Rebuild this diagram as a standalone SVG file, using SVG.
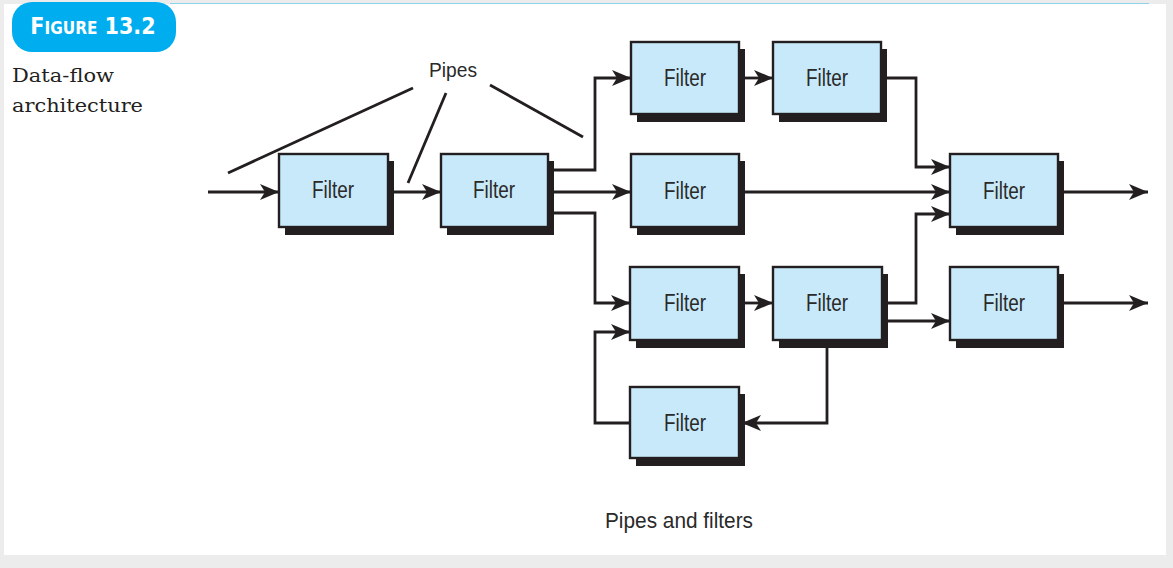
<svg xmlns="http://www.w3.org/2000/svg" width="1173" height="568" viewBox="0 0 1173 568">
<defs>
<style>
.shadow{fill:#231f20}
.box{fill:#c8e9f9;stroke:#231f20;stroke-width:2.4}
.lbl{font-family:"Liberation Sans",Arial,sans-serif;font-size:23px;fill:#2a2a2a;text-anchor:middle}
.wire{fill:none;stroke:#231f20;stroke-width:2.8}
.pipe{fill:none;stroke:#231f20;stroke-width:2.8}
</style>
<marker id="ah" markerUnits="userSpaceOnUse" markerWidth="20" markerHeight="16" refX="19" refY="8" orient="auto">
<path d="M0,0 L19,8 L0,16 L5,8 Z" fill="#231f20"/>
</marker>
</defs>
<rect x="0" y="0" width="1173" height="568" fill="#ececec"/>
<rect x="4" y="4" width="1162" height="551" fill="#ffffff"/>
<line x1="170" y1="3.5" x2="1149" y2="3.5" stroke="#8fd3ea" stroke-width="1.2"/>

<g id="title">
<rect x="12" y="2" width="164" height="50" rx="20" fill="#00aeef"/>
<text x="93" y="34" font-family="'DejaVu Sans Condensed','DejaVu Sans',sans-serif" font-weight="bold" font-size="23" fill="#ffffff" text-anchor="middle">F<tspan font-size="17">IGURE</tspan> 13.2</text>
<text x="12" y="82" font-family="'DejaVu Serif','Liberation Serif',serif" font-size="19" fill="#231f20" textLength="102" lengthAdjust="spacingAndGlyphs">Data-flow</text>
<text x="12" y="112" font-family="'DejaVu Serif','Liberation Serif',serif" font-size="19" fill="#231f20" textLength="131" lengthAdjust="spacingAndGlyphs">architecture</text>
</g>

<g id="connectors">
<path class="wire" d="M208,192 H279" marker-end="url(#ah)"/>
<path class="wire" d="M393,192 H441" marker-end="url(#ah)"/>
<path class="wire" d="M553,170 H595 V78 H631" marker-end="url(#ah)"/>
<path class="wire" d="M553,192 H631" marker-end="url(#ah)"/>
<path class="wire" d="M553,213 H595 V303 H630" marker-end="url(#ah)"/>
<path class="wire" d="M744,78 H773" marker-end="url(#ah)"/>
<path class="wire" d="M886,78 H916 V167 H950" marker-end="url(#ah)"/>
<path class="wire" d="M744,192 H950" marker-end="url(#ah)"/>
<path class="wire" d="M744,303 H773" marker-end="url(#ah)"/>
<path class="wire" d="M887,303 H916 V214 H950" marker-end="url(#ah)"/>
<path class="wire" d="M887,321 H950" marker-end="url(#ah)"/>
<path class="wire" d="M827,348 V423 H742" marker-end="url(#ah)"/>
<path class="wire" d="M630,423 H595 V332 H630" marker-end="url(#ah)"/>
<path class="wire" d="M1063,192 H1148" marker-end="url(#ah)"/>
<path class="wire" d="M1063,303 H1148" marker-end="url(#ah)"/>
</g>

<g id="pipes">
<text x="453" y="77" font-family="'Liberation Sans',Arial,sans-serif" font-size="21" fill="#2a2a2a" text-anchor="middle" textLength="48" lengthAdjust="spacingAndGlyphs">Pipes</text>
<line class="pipe" x1="413" y1="88" x2="228" y2="173"/>
<line class="pipe" x1="446" y1="93" x2="408" y2="183"/>
<line class="pipe" x1="490" y1="85" x2="583" y2="137"/>
</g>

<g id="f1"><rect class="shadow" x="285" y="161" width="109" height="74"/><rect class="box" x="279" y="154" width="109" height="73"/><text class="lbl" x="333" y="198" textLength="42" lengthAdjust="spacingAndGlyphs">Filter</text></g>
<g id="f2"><rect class="shadow" x="447" y="161" width="107" height="74"/><rect class="box" x="441" y="154" width="107" height="73"/><text class="lbl" x="494" y="198" textLength="42" lengthAdjust="spacingAndGlyphs">Filter</text></g>
<g id="fa"><rect class="shadow" x="637" y="49" width="108" height="73"/><rect class="box" x="631" y="42" width="108" height="72"/><text class="lbl" x="685" y="86" textLength="42" lengthAdjust="spacingAndGlyphs">Filter</text></g>
<g id="fb"><rect class="shadow" x="779" y="49" width="108" height="73"/><rect class="box" x="773" y="42" width="108" height="72"/><text class="lbl" x="827" y="86" textLength="42" lengthAdjust="spacingAndGlyphs">Filter</text></g>
<g id="fm"><rect class="shadow" x="637" y="161" width="108" height="74"/><rect class="box" x="631" y="154" width="108" height="73"/><text class="lbl" x="685" y="199" textLength="42" lengthAdjust="spacingAndGlyphs">Filter</text></g>
<g id="fc"><rect class="shadow" x="636" y="274" width="109" height="74"/><rect class="box" x="630" y="267" width="109" height="73"/><text class="lbl" x="685" y="311" textLength="42" lengthAdjust="spacingAndGlyphs">Filter</text></g>
<g id="fd"><rect class="shadow" x="779" y="274" width="109" height="74"/><rect class="box" x="773" y="267" width="109" height="73"/><text class="lbl" x="827" y="311" textLength="42" lengthAdjust="spacingAndGlyphs">Filter</text></g>
<g id="fe"><rect class="shadow" x="636" y="394" width="109" height="72"/><rect class="box" x="630" y="387" width="109" height="71"/><text class="lbl" x="685" y="431" textLength="42" lengthAdjust="spacingAndGlyphs">Filter</text></g>
<g id="ff"><rect class="shadow" x="956" y="161" width="108" height="74"/><rect class="box" x="950" y="154" width="108" height="73"/><text class="lbl" x="1004" y="199" textLength="42" lengthAdjust="spacingAndGlyphs">Filter</text></g>
<g id="fg"><rect class="shadow" x="956" y="274" width="108" height="74"/><rect class="box" x="950" y="267" width="108" height="73"/><text class="lbl" x="1004" y="311" textLength="42" lengthAdjust="spacingAndGlyphs">Filter</text></g>

<text x="679" y="528" font-family="'Liberation Sans',Arial,sans-serif" font-size="22" fill="#2a2a2a" text-anchor="middle" textLength="148" lengthAdjust="spacingAndGlyphs">Pipes and filters</text>
</svg>
